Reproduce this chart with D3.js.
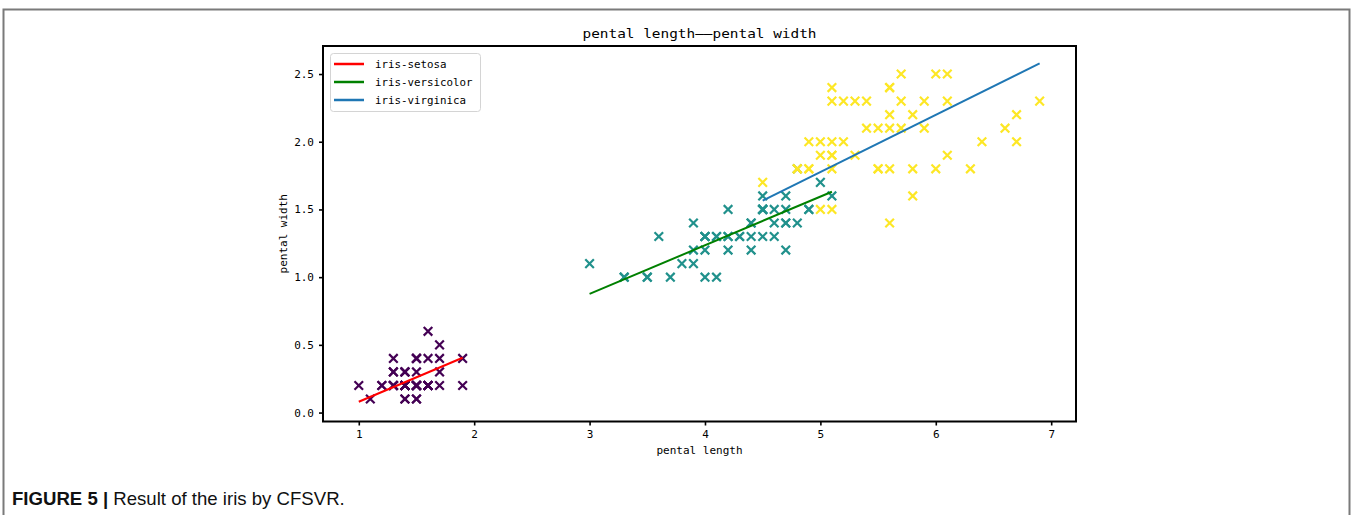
<!DOCTYPE html>
<html>
<head>
<meta charset="utf-8">
<script src="https://cdn.jsdelivr.net/npm/d3@7/dist/d3.min.js"></script>
<style>
  html, body { margin: 0; padding: 0; background: #fff; }
  svg { display: block; }
  .mono { font-family: "DejaVu Sans Mono", "Liberation Mono", monospace; }
</style>
</head>
<body>
<svg id="chart" width="1353" height="515"></svg>
<script>
// Iris petal measurements, [petal length, petal width], one list per class
const setosa = [
  [1.4,0.2],[1.4,0.2],[1.3,0.2],[1.5,0.2],[1.4,0.2],[1.7,0.4],[1.4,0.3],[1.5,0.2],[1.4,0.2],[1.5,0.1],
  [1.5,0.2],[1.6,0.2],[1.4,0.1],[1.1,0.1],[1.2,0.2],[1.5,0.4],[1.3,0.4],[1.4,0.3],[1.7,0.3],[1.5,0.3],
  [1.7,0.2],[1.5,0.4],[1.0,0.2],[1.7,0.5],[1.9,0.2],[1.6,0.2],[1.6,0.4],[1.5,0.2],[1.4,0.2],[1.6,0.2],
  [1.6,0.2],[1.5,0.4],[1.5,0.1],[1.4,0.2],[1.5,0.2],[1.2,0.2],[1.3,0.2],[1.4,0.1],[1.3,0.2],[1.5,0.2],
  [1.3,0.3],[1.3,0.3],[1.3,0.2],[1.6,0.6],[1.9,0.4],[1.4,0.3],[1.6,0.2],[1.4,0.2],[1.5,0.2],[1.4,0.2]
];
const versicolor = [
  [4.7,1.4],[4.5,1.5],[4.9,1.5],[4.0,1.3],[4.6,1.5],[4.5,1.3],[4.7,1.6],[3.3,1.0],[4.6,1.3],[3.9,1.4],
  [3.5,1.0],[4.2,1.5],[4.0,1.0],[4.7,1.4],[3.6,1.3],[4.4,1.4],[4.5,1.5],[4.1,1.0],[4.5,1.5],[3.9,1.1],
  [4.8,1.8],[4.0,1.3],[4.9,1.5],[4.7,1.2],[4.3,1.3],[4.4,1.4],[4.8,1.4],[5.0,1.7],[4.5,1.5],[3.5,1.0],
  [3.8,1.1],[3.7,1.0],[3.9,1.2],[5.1,1.6],[4.5,1.5],[4.5,1.6],[4.7,1.5],[4.4,1.3],[4.1,1.3],[4.0,1.3],
  [4.4,1.2],[4.6,1.4],[4.0,1.2],[3.3,1.0],[4.2,1.3],[4.2,1.2],[4.2,1.3],[4.3,1.3],[3.0,1.1],[4.1,1.3]
];
const virginica = [
  [6.0,2.5],[5.1,1.9],[5.9,2.1],[5.6,1.8],[5.8,2.2],[6.6,2.1],[4.5,1.7],[6.3,1.8],[5.8,1.8],[6.1,2.5],
  [5.1,2.0],[5.3,1.9],[5.5,2.1],[5.0,2.0],[5.1,2.4],[5.3,2.3],[5.5,1.8],[6.7,2.2],[6.9,2.3],[5.0,1.5],
  [5.7,2.3],[4.9,2.0],[6.7,2.0],[4.9,1.8],[5.7,2.1],[6.0,1.8],[4.8,1.8],[4.9,1.8],[5.6,2.1],[5.8,1.6],
  [6.1,1.9],[6.4,2.0],[5.6,2.2],[5.1,1.5],[5.6,1.4],[6.1,2.3],[5.6,2.4],[5.5,1.8],[4.8,1.8],[5.4,2.1],
  [5.6,2.4],[5.1,2.3],[5.1,1.9],[5.9,2.3],[5.7,2.5],[5.2,2.3],[5.0,1.9],[5.2,2.0],[5.4,2.3],[5.1,1.8]
];

// Fitted regression segments per class: [start, end]
const fitSetosa = [[1.0, 0.08], [1.9, 0.405]];
const fitVersicolor = [[3.0, 0.876], [5.1, 1.631]];
const fitVirginica = [[4.5, 1.565], [6.9, 2.579]];

const legendLabels = ["iris-setosa", "iris-versicolor", "iris-virginica"];
const xTicks = [1, 2, 3, 4, 5, 6, 7];
const yTicks = [0.0, 0.5, 1.0, 1.5, 2.0, 2.5];

const titleText = "pental length\u2014\u2014pental width";
const xLabel = "pental length";
const yLabel = "pental width";

const svg = d3.select("#chart");
const W = 1353, H = 515;

// Figure frame
svg.append("path")
  .attr("d", `M3.5,${H} V9.5 H1349.5 V${H}`)
  .attr("fill", "none").attr("stroke", "#7a7a7a").attr("stroke-width", 2);

const plot = { left: 323, right: 1076, top: 46, bottom: 421.5 };
const x = d3.scaleLinear().domain([0.69, 7.215]).range([plot.left, plot.right]);
const y = d3.scaleLinear().domain([-0.066, 2.707]).range([plot.bottom, plot.top]);

const g = svg.append("g");

// Scatter markers ('x'), colored by class with viridis end/mid points
const classes = [
  { data: setosa, color: "#440154" },
  { data: versicolor, color: "#21918c" },
  { data: virginica, color: "#fde725" }
];
const m = 4.3;
classes.forEach(c => {
  g.append("g").selectAll("path").data(c.data).join("path")
    .attr("d", d => {
      const cx = x(d[0]), cy = y(d[1]);
      return `M${cx - m},${cy - m}L${cx + m},${cy + m}M${cx - m},${cy + m}L${cx + m},${cy - m}`;
    })
    .attr("stroke", c.color).attr("stroke-width", 2.2).attr("fill", "none");
});

// Regression lines
const lineColors = ["#ff0000", "#008000", "#1f77b4"];
const line = d3.line().x(d => x(d[0])).y(d => y(d[1]));
[fitSetosa, fitVersicolor, fitVirginica].forEach((seg, i) => {
  g.append("path").attr("d", line(seg))
    .attr("stroke", lineColors[i]).attr("stroke-width", 2).attr("fill", "none");
});

// Axes
const xAxis = d3.axisBottom(x).tickValues(xTicks).tickFormat(d3.format("d")).tickSizeOuter(0).tickSize(4).tickPadding(5);
const yAxis = d3.axisLeft(y).tickValues(yTicks).tickFormat(d3.format(".1f")).tickSizeOuter(0).tickSize(4).tickPadding(5);

const gx = svg.append("g").attr("transform", `translate(0,${plot.bottom})`).call(xAxis);
const gy = svg.append("g").attr("transform", `translate(${plot.left},0)`).call(yAxis);
[gx, gy].forEach(a => {
  a.select(".domain").remove();
  a.selectAll(".tick line").attr("stroke", "#000").attr("stroke-width", 1.6);
  a.selectAll(".tick text").attr("class", "mono").attr("font-size", 11).attr("fill", "#000");
});

// Spines
svg.append("rect")
  .attr("x", plot.left).attr("y", plot.top)
  .attr("width", plot.right - plot.left).attr("height", plot.bottom - plot.top)
  .attr("fill", "none").attr("stroke", "#000").attr("stroke-width", 2);

// Title and axis labels
const cxPlot = (plot.left + plot.right) / 2;
svg.append("text").attr("class", "mono")
  .attr("x", cxPlot).attr("y", 37.5).attr("text-anchor", "middle")
  .attr("font-size", 13).attr("textLength", 234).attr("lengthAdjust", "spacingAndGlyphs")
  .text(titleText);
svg.append("text").attr("class", "mono")
  .attr("x", cxPlot).attr("y", 453.5).attr("text-anchor", "middle")
  .attr("font-size", 11).text(xLabel);
svg.append("text").attr("class", "mono")
  .attr("transform", `translate(287,${(plot.top + plot.bottom) / 2}) rotate(-90)`)
  .attr("text-anchor", "middle").attr("font-size", 11).text(yLabel);

// Legend
const lg = svg.append("g").attr("transform", "translate(330,53)");
lg.append("rect").attr("x", 0.5).attr("y", 0.5).attr("width", 150).attr("height", 58)
  .attr("rx", 3).attr("fill", "#fff").attr("fill-opacity", 0.8)
  .attr("stroke", "#d4d4d4").attr("stroke-width", 1);
legendLabels.forEach((lab, i) => {
  const ry = 11 + i * 18;
  lg.append("line").attr("x1", 4).attr("x2", 34).attr("y1", ry).attr("y2", ry)
    .attr("stroke", lineColors[i]).attr("stroke-width", 2.5);
  lg.append("text").attr("class", "mono").attr("x", 45).attr("y", ry + 4)
    .attr("font-size", 10.8).text(lab);
});

// Caption
const cap = svg.append("text").attr("x", 12).attr("y", 505)
  .attr("font-family", "'Liberation Sans', Arial, sans-serif").attr("font-size", 18.6).attr("fill", "#111");
cap.append("tspan").attr("font-weight", "bold").text("FIGURE 5 | ");
cap.append("tspan").text("Result of the iris by CFSVR.");
</script>
</body>
</html>
